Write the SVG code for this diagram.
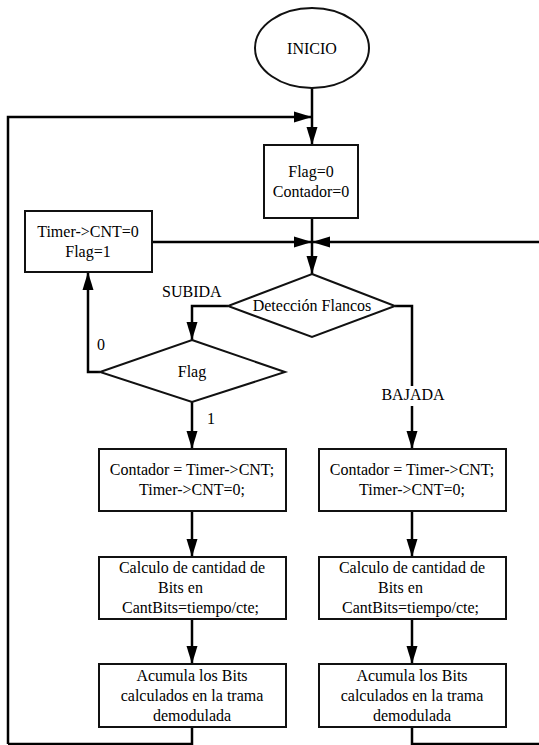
<svg xmlns="http://www.w3.org/2000/svg" width="539" height="745" viewBox="0 0 539 745">
<defs>
<marker id="arr" markerUnits="userSpaceOnUse" markerWidth="18" markerHeight="12" refX="18" refY="6" orient="auto">
<path d="M0,0.5 L18,6 L0,11.5 z" fill="#000"/>
</marker>
</defs>
<style>
.n{fill:#fff;stroke:#111;stroke-width:2}
.c{fill:none;stroke:#000;stroke-width:2.5}
.a{marker-end:url(#arr)}
.m{text-anchor:middle}
</style>
<rect width="539" height="745" fill="#fff"/>
<g font-family="Liberation Serif, DejaVu Serif, serif" font-size="16" fill="#000">
<g id="connectors">
<path class="c a" d="M312,88 V145"/>
<path class="c a" d="M8,744 V117 H312"/>
<path class="c" d="M192,727 V744 H8"/>
<path class="c a" d="M312,218 V274"/>
<path class="c a" d="M152,242 H312"/>
<path class="c a" d="M545,242 H312"/>
<path class="c" d="M412,727 V744 H545"/>
<path class="c a" d="M228,306 H192 V340"/>
<path class="c a" d="M100,372 H88 V272"/>
<path class="c a" d="M192,402 V449"/>
<path class="c a" d="M395,306 H412 V449"/>
<path class="c a" d="M192,511 V557"/>
<path class="c a" d="M412,511 V557"/>
<path class="c a" d="M192,619 V664"/>
<path class="c a" d="M412,619 V664"/>
<rect x="380" y="386" width="66" height="20" fill="#fff"/>
<text x="413" y="400" class="m">BAJADA</text>
<text x="162" y="297">SUBIDA</text>
<text x="97" y="350">0</text>
<text x="207" y="424">1</text>
</g>
<g id="inicio">
<ellipse class="n" cx="312" cy="48" rx="57" ry="40"/>
<text x="312" y="54" class="m">INICIO</text>
</g>
<g id="init">
<rect class="n" x="264" y="145" width="94" height="73"/>
<text x="311" y="177" class="m">Flag=0</text>
<text x="311" y="197" class="m">Contador=0</text>
</g>
<g id="timerreset">
<rect class="n" x="25" y="211" width="127" height="61"/>
<text x="88" y="237" class="m">Timer-&gt;CNT=0</text>
<text x="88" y="257" class="m">Flag=1</text>
</g>
<g id="deteccion">
<polygon class="n" points="312,274 395,306 312,337 228,306"/>
<text x="312" y="311" class="m">Detección Flancos</text>
</g>
<g id="flag">
<polygon class="n" points="192,340 285,372 192,402 100,372"/>
<text x="192" y="377" class="m">Flag</text>
</g>
<g id="contadorL">
<rect class="n" x="99" y="449" width="187" height="62"/>
<text x="192" y="475" class="m">Contador = Timer-&gt;CNT;</text>
<text x="192" y="495" class="m">Timer-&gt;CNT=0;</text>
</g>
<g id="contadorR">
<rect class="n" x="319" y="449" width="187" height="62"/>
<text x="412" y="475" class="m">Contador = Timer-&gt;CNT;</text>
<text x="412" y="495" class="m">Timer-&gt;CNT=0;</text>
</g>
<g id="calculoL">
<rect class="n" x="99" y="557" width="187" height="62"/>
<text x="192" y="573" class="m">Calculo de cantidad de</text>
<text x="158" y="593">Bits en</text>
<text x="122" y="613">CantBits=tiempo/cte;</text>
</g>
<g id="calculoR">
<rect class="n" x="319" y="557" width="187" height="62"/>
<text x="412" y="573" class="m">Calculo de cantidad de</text>
<text x="378" y="593">Bits en</text>
<text x="342" y="613">CantBits=tiempo/cte;</text>
</g>
<g id="acumulaL">
<rect class="n" x="99" y="664" width="187" height="63"/>
<text x="192" y="681" class="m">Acumula los Bits</text>
<text x="192" y="701" class="m">calculados en la trama</text>
<text x="192" y="721" class="m">demodulada</text>
</g>
<g id="acumulaR">
<rect class="n" x="319" y="664" width="187" height="63"/>
<text x="412" y="681" class="m">Acumula los Bits</text>
<text x="412" y="701" class="m">calculados en la trama</text>
<text x="412" y="721" class="m">demodulada</text>
</g>
</g>
</svg>
